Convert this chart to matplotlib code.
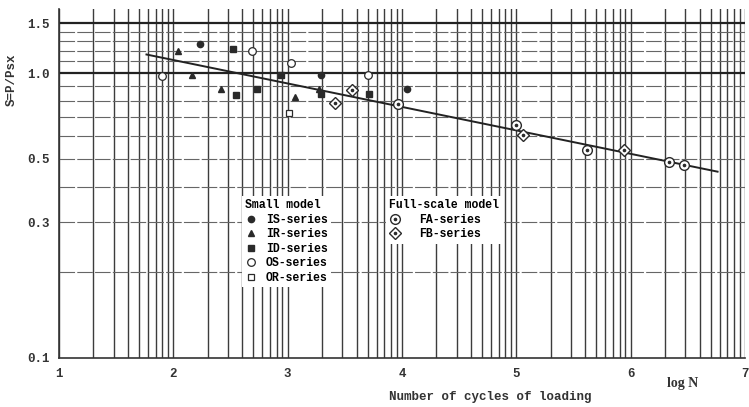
import numpy as np
import matplotlib.pyplot as plt
from matplotlib.legend_handler import HandlerTuple

# small model data (log N, S)
is_x = [2.23, 3.29, 4.04]
is_y = [1.27, 0.986, 0.877]
ir_x = [2.04, 2.165, 2.415, 3.065, 3.275]
ir_y = [1.20, 0.986, 0.877, 0.826, 0.877]
id_x = [2.52, 2.545, 2.735, 2.94, 3.295, 3.71]
id_y = [1.22, 0.839, 0.877, 0.986, 0.842, 0.842]
os_x = [1.90, 2.685, 3.03, 3.70]
os_y = [0.98, 1.20, 1.087, 0.984]
or_x = [3.01]
or_y = [0.726]

# full-scale model data
fa_x = [3.965, 5.00, 5.62, 6.335, 6.47]
fa_y = [0.78, 0.657, 0.537, 0.487, 0.475]
fb_x = [3.41, 3.56, 5.055, 5.94]
fb_y = [0.783, 0.872, 0.609, 0.538]

# fitted line end points
fit_x = [1.765, 6.76]
fit_y = [1.163, 0.451]

xticks = [1, 2, 3, 4, 5, 6, 7]
yticks = [0.1, 0.3, 0.5, 1.0, 1.5]
ytick_labels = ["0.1", "0.3", "0.5", "1.0", "1.5"]

mono = "Liberation Mono"
ink = "#2a2a2a"

fig = plt.figure(figsize=(7.49, 4.07), dpi=100)
ax = fig.add_axes([59 / 749, 1 - 358 / 407, (745 - 59) / 749, (358 - 9) / 407])
ax.set_yscale("log")
ax.set_xlim(1, 7)
ax.set_ylim(0.1, 1.68)

# log paper grid
for n in range(1, 7):
    for k in range(1, 10):
        ax.axvline(n + np.log10(k), color="#3c3c3c", lw=1.0, zorder=1)
ax.axvline(7, color="#3c3c3c", lw=1.0, zorder=1)
for v in [0.2, 0.3, 0.4, 0.5, 0.6, 0.7, 0.8, 0.9, 1.1, 1.2, 1.3, 1.4]:
    ax.axhline(v, color="#666666", lw=0.8, dashes=(14, 2), zorder=1)
for v in [1.0, 1.5]:
    ax.axhline(v, color="#222222", lw=1.6, zorder=1)

ax.plot(fit_x, fit_y, color="#222222", lw=1.4, zorder=2)

h_is, = ax.plot(is_x, is_y, "o", ms=4.5, color=ink, ls="none", zorder=3)
h_ir, = ax.plot(ir_x, ir_y, "^", ms=5, color=ink, ls="none", zorder=3)
h_id, = ax.plot(id_x, id_y, "s", ms=4.5, color=ink, ls="none", zorder=3)
h_os, = ax.plot(os_x, os_y, "o", ms=5.5, mfc="white", mec=ink, mew=0.9, ls="none", zorder=3)
h_or, = ax.plot(or_x, or_y, "s", ms=5, mfc="white", mec=ink, mew=0.9, ls="none", zorder=3)

h_fa, = ax.plot(fa_x, fa_y, "o", ms=7, mfc="white", mec=ink, mew=1.0, ls="none", zorder=3)
h_fa2, = ax.plot(fa_x, fa_y, "o", ms=1.6, color=ink, ls="none", zorder=4)
h_fb, = ax.plot(fb_x, fb_y, "D", ms=6.5, mfc="white", mec=ink, mew=1.0, ls="none", zorder=3)
h_fb2, = ax.plot(fb_x, fb_y, "o", ms=1.6, color=ink, ls="none", zorder=4)

for s in ["top", "right"]:
    ax.spines[s].set_visible(False)
for s in ["left", "bottom"]:
    ax.spines[s].set_color("#333333")
    ax.spines[s].set_linewidth(1.2)

ax.set_xticks(xticks)
ax.set_xticklabels([str(t) for t in xticks], fontfamily=mono, fontsize=9, fontweight="bold")
ax.set_yticks(yticks)
ax.set_yticklabels(ytick_labels, fontfamily=mono, fontsize=9, fontweight="bold")
ax.yaxis.set_minor_locator(plt.NullLocator())
ax.tick_params(length=0, pad=7, colors="#333333")

leg_kw = dict(loc="upper left", bbox_transform=fig.transFigure, frameon=True,
              facecolor="white", edgecolor="none", framealpha=1, fancybox=False,
              prop={"family": mono, "size": 8.3, "weight": "bold"}, handlelength=1.0,
              labelspacing=0.22, borderpad=0.3, alignment="left")
leg1 = ax.legend([h_is, h_ir, h_id, h_os, h_or],
                 ["IS-series", "IR-series", "ID-series", "OS-series", "OR-series"],
                 title="Small model", handletextpad=0.8,
                 bbox_to_anchor=(236 / 749, 1 - 190 / 407), **leg_kw)
leg1.get_title().set_fontproperties({"family": mono, "size": 8.3, "weight": "bold"})
ax.add_artist(leg1)
leg2 = ax.legend([(h_fa, h_fa2), (h_fb, h_fb2)], ["FA-series", "FB-series"],
                 handler_map={tuple: HandlerTuple(ndivide=1)},
                 title="Full-scale model", handletextpad=1.6,
                 bbox_to_anchor=(380 / 749, 1 - 190 / 407), **leg_kw)
leg2.get_title().set_fontproperties({"family": mono, "size": 8.3, "weight": "bold"})

fig.text(12 / 749, 1 - 80 / 407, "S=P/Psx", rotation=90, ha="center", va="center",
         fontfamily=mono, fontsize=9, fontweight="bold", color="#333333")
fig.text(490 / 749, 1 - 397 / 407, "Number of cycles of loading", ha="center", va="center",
         fontfamily=mono, fontsize=9, fontweight="bold", color="#333333")
fig.text(683 / 749, 1 - 384 / 407, "log N", ha="center", va="center",
         fontfamily="Liberation Serif", fontsize=10, fontweight="bold", color="#333333")

fig.savefig("out.png", dpi=100)
